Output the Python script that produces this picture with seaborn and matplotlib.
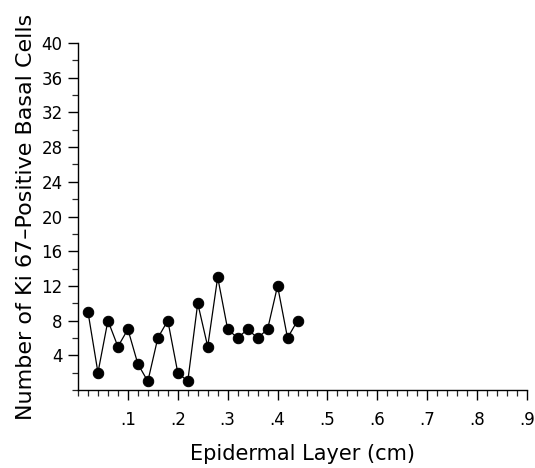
import matplotlib
matplotlib.use("Agg")
import matplotlib.pyplot as plt
import seaborn as sns
import pandas as pd
from matplotlib.ticker import MultipleLocator, FixedLocator

layer_cm = [0.02, 0.04, 0.06, 0.08, 0.10, 0.12, 0.14, 0.16, 0.18, 0.20, 0.22,
            0.24, 0.26, 0.28, 0.30, 0.32, 0.34, 0.36, 0.38, 0.40, 0.42, 0.44]
ki67_cells = [9, 2, 8, 5, 7, 3, 1, 6, 8, 2, 1, 10, 5, 13, 7, 6, 7, 6, 7, 12, 6, 8]
x_ticks = [0.1, 0.2, 0.3, 0.4, 0.5, 0.6, 0.7, 0.8, 0.9]
x_tick_labels = [".1", ".2", ".3", ".4", ".5", ".6", ".7", ".8", ".9"]
y_ticks = [4, 8, 12, 16, 20, 24, 28, 32, 36, 40]

sns.set_theme(style="ticks")
plt.rcParams['font.family'] = ['DejaVu Sans']

df = pd.DataFrame({"x": layer_cm, "y": ki67_cells})

fig = plt.figure(figsize=(5.35, 4.68), dpi=100)
ax = fig.add_axes([78/535, 1-390/468, (527-78)/535, (390-43)/468])
sns.lineplot(data=df, x="x", y="y", ax=ax, color="black", linewidth=0.9,
             marker="o", markersize=7.5, markerfacecolor="black",
             markeredgecolor="black")
ax.set_xlim(0, 0.9)
ax.set_ylim(0, 40)
ax.xaxis.set_major_locator(FixedLocator(x_ticks))
ax.set_xticklabels(x_tick_labels)
ax.xaxis.set_minor_locator(MultipleLocator(0.02))
ax.yaxis.set_major_locator(FixedLocator(y_ticks))
ax.set_yticklabels([str(v) for v in y_ticks])
ax.yaxis.set_minor_locator(MultipleLocator(2))
for s in ["top", "right"]:
    ax.spines[s].set_visible(False)
for s in ["left", "bottom"]:
    ax.spines[s].set_linewidth(1.0)
    ax.spines[s].set_color("black")
ax.tick_params(axis="both", which="major", length=7, width=1.0, labelsize=12,
               colors="black", direction="out")
ax.tick_params(axis="both", which="minor", length=4, width=0.9, direction="out")
ax.tick_params(axis="x", pad=8)
ax.tick_params(axis="y", pad=4)
ax.set_xlabel("Epidermal Layer (cm)", fontsize=15, labelpad=11, color="black")
ax.set_ylabel("Number of Ki 67\u2013Positive Basal Cells", fontsize=16,
              labelpad=4, color="black")
fig.savefig("out.png", dpi=100)
